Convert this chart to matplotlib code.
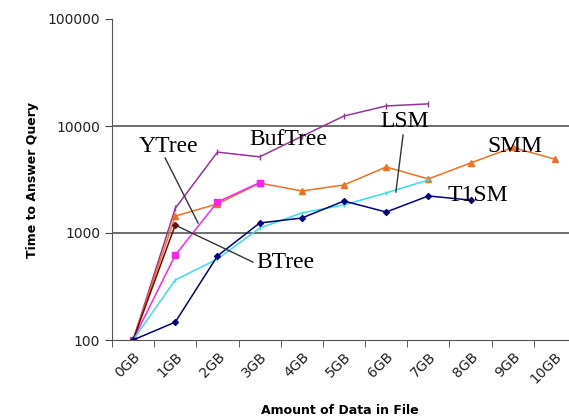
import numpy as np
import matplotlib
matplotlib.use('Agg')
import matplotlib.pyplot as plt
import matplotlib.transforms as mtransforms

# Categories on the x axis
labels = ['0GB', '1GB', '2GB', '3GB', '4GB', '5GB', '6GB', '7GB', '8GB', '9GB', '10GB']

# Time to answer query per structure
buftree = [100, 1700, 5700, 5150, 8000, 12400, 15400, 16100]
smm = [100, 1440, 1870, 2930, 2470, 2810, 4140, 3200, 4510, 6300, 4900]
ytree = [100, 620, 1950, 2950]
btree = [100, 1190]
lsm = [100, 364, 571, 1110, 1540, 1830, 2370, 3130]
t1sm = [100, 147, 610, 1240, 1380, 1990, 1570, 2220, 2030]

fig = plt.figure(figsize=(5.69, 4.16), dpi=100)
ax = fig.add_axes([112/569, 1 - 340/416, 464/569, 321/416])

ax.plot(range(len(buftree)), buftree, color='#993399', marker='|', ms=4, lw=1.1)
ax.plot(range(len(smm)), smm, color='#F07020', marker='^', ms=4, lw=1.1)
ax.plot(range(len(ytree)), ytree, color='#FF22EE', marker='s', ms=4, lw=1.1)
ax.plot(range(len(btree)), btree, color='#800000', marker='D', ms=3, lw=1.1)
ax.plot(range(len(lsm)), lsm, color='#33E0E8', marker='|', ms=3, lw=1.1)
ax.plot(range(len(t1sm)), t1sm, color='#000080', marker='D', ms=3, lw=1.1)

ax.set_yscale('log')
ax.set_ylim(100, 100000)
ax.set_xlim(-0.5, len(labels) - 0.5)
ax.set_yticks([100, 1000, 10000, 100000])
ax.set_yticklabels(['100', '1000', '10000', '100000'], fontsize=10, color='#222222')
ax.yaxis.set_minor_locator(matplotlib.ticker.NullLocator())
ax.set_xticks(np.arange(len(labels)))
ax.set_xticklabels(labels, rotation=45, ha='right', va='top', fontsize=10,
                   rotation_mode='anchor', color='#222222')
shift = mtransforms.ScaledTranslation(-7/100, -3/100, fig.dpi_scale_trans)
for lab in ax.get_xticklabels():
    lab.set_transform(lab.get_transform() + shift)
ax.set_xticks(np.arange(len(labels) + 1) - 0.5, minor=True)
ax.tick_params(axis='x', which='major', length=0, pad=7)
ax.tick_params(axis='x', which='minor', length=5, color='#444444')
ax.tick_params(axis='y', length=5, color='#444444')

for v in [1000, 10000]:
    ax.axhline(v, color='#555555', lw=1.2, zorder=0)

for s in ['top', 'right']:
    ax.spines[s].set_visible(False)
ax.spines['left'].set_color('#555555')
ax.spines['bottom'].set_color('#555555')

ax.set_ylabel('Time to Answer Query', fontsize=9, fontweight='bold', labelpad=6)
ax.set_xlabel('Amount of Data in File', fontsize=9, fontweight='bold')
ax.xaxis.set_label_coords(228/464, -0.2)

serif = dict(family='Liberation Serif', fontsize=17, ha='center', va='center')
ax.text(0.83, 6500, 'YTree', **serif)
ax.text(3.67, 7400, 'BufTree', **serif)
ax.text(6.44, 10900, 'LSM', **serif)
ax.text(9.05, 6500, 'SMM', **serif)
ax.text(8.17, 2220, 'T1SM', **serif)
ax.text(3.62, 535, 'BTree', **serif)

# pointer lines
ax.plot([0.76, 1.54], [5020, 1240], color='#333333', lw=1)
ax.plot([2.84, 0.99], [535, 1190], color='#333333', lw=1)
ax.plot([6.40, 6.23], [8240, 2415], color='#333333', lw=1)

plt.savefig('out.png', dpi=100)
